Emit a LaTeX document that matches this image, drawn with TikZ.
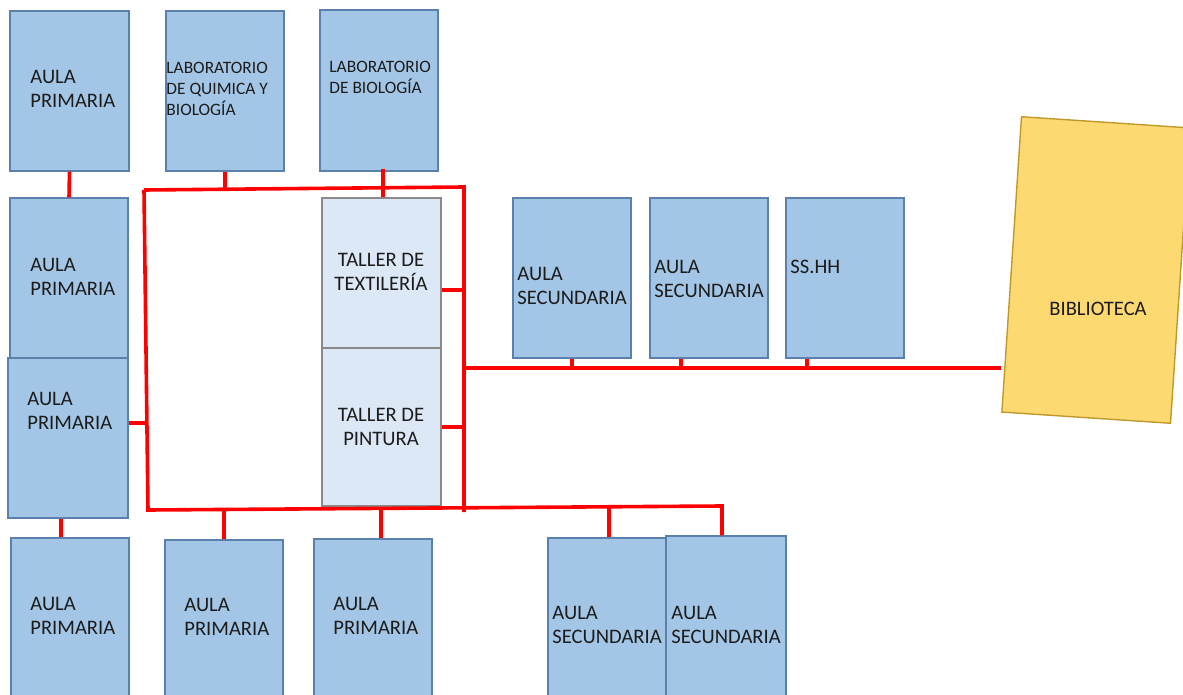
\documentclass[tikz,border=0pt]{standalone}
\usepackage{fontspec}
\setmainfont{Carlito}
\usepackage{tikz}
\usetikzlibrary{positioning,calc}

\definecolor{azul}{HTML}{A4C6E6}
\definecolor{bordeazul}{HTML}{5A80AE}
\definecolor{celeste}{HTML}{DCE8F5}
\definecolor{gris}{HTML}{8A8A8A}
\definecolor{oro}{HTML}{FDD971}
\definecolor{bordeoro}{HTML}{BF9A2A}
\definecolor{rojo}{HTML}{FF0000}
\definecolor{tinta}{HTML}{1C1C1C}

\begin{document}
\begin{tikzpicture}[x=0.5pt, y=-0.5pt, font=\fontsize{10.3}{12.2}\selectfont, text=tinta]
\tikzstyle{aula}=[draw=bordeazul, fill=azul, line width=0.6pt, minimum width=59pt, minimum height=80pt, inner sep=0pt]
\tikzstyle{taller}=[draw=gris, fill=celeste, line width=0.6pt, minimum width=59.5pt, inner sep=0pt]
\tikzstyle{rotulo}=[anchor=west, align=left, inner sep=0pt]
\tikzstyle{chico}=[rotulo, font=\fontsize{8.7}{10.5}\selectfont]
\tikzstyle{via}=[draw=rojo, line width=1.8pt]

\useasboundingbox (0,0) rectangle (1183,695);
\clip (0,0) rectangle (1183,695);

% primera fila
\node[aula, minimum width=59.5pt] (a1) at (69.5,91)  {};
\node[aula] (lq) at (225,91)   {};
\node[aula, minimum height=80.5pt] (lb) at (379,90.5) {};
% pabellon izquierdo
\node[aula] (a2) at (69,278)  {};
\node[aula, minimum width=60pt] (a3) at (68,438)  {};
% talleres
\node[taller, minimum height=75pt] (tt) at (381.5,273) {};
\node[taller, minimum height=79pt] (tp) at (381.5,427) {};
% secundaria y servicios
\node[aula] (s1) at (572,278) {};
\node[aula] (s2) at (709,278) {};
\node[aula] (sh) at (845,278) {};
% biblioteca
\node[draw=bordeoro, fill=oro, line width=0.7pt, minimum width=84.5pt, minimum height=148pt, inner sep=0pt, rotate=-3.8] (bib) at (1096,270) {};
% ultima fila
\node[aula] (b1) at (70,618)  {};
\node[aula] (b2) at (224,620) {};
\node[aula] (b3) at (373,619) {};
\node[aula] (b4) at (607,618) {};
\node[aula, minimum width=60pt] (b5) at (726,616) {};

% textos
\node[rotulo] (a1t) at (30,89)  {AULA\\PRIMARIA};
\node[chico]  (lqt) at (166,89) {LABORATORIO\\DE QUIMICA Y\\BIOLOGÍA};
\node[chico]  (lbt) at (329,77) {LABORATORIO\\DE BIOLOGÍA};
\node[rotulo] (a2t) at (30,277) {AULA\\PRIMARIA};
\node[rotulo] (a3t) at (27,411) {AULA\\PRIMARIA};
\node[align=center, inner sep=0pt] (ttt) at (381,272) {TALLER DE\\TEXTILERÍA};
\node[align=center, inner sep=0pt] (tpt) at (381,427) {TALLER DE\\PINTURA};
\node[rotulo] (s1t) at (517,286) {AULA\\SECUNDARIA};
\node[rotulo] (s2t) at (654,279) {AULA\\SECUNDARIA};
\node[rotulo] (sht) at (790,267) {SS.HH};
\node[inner sep=0pt] (bibt) at (1098,309) {BIBLIOTECA};
\node[rotulo] (b1t) at (30,616)  {AULA\\PRIMARIA};
\node[rotulo] (b2t) at (184,617) {AULA\\PRIMARIA};
\node[rotulo] (b3t) at (333,616) {AULA\\PRIMARIA};
\node[rotulo] (b4t) at (552,625) {AULA\\SECUNDARIA};
\node[rotulo] (b5t) at (671,625) {AULA\\SECUNDARIA};

% pasillos
\coordinate (nw) at (144,190);
\coordinate (ne) at (464,187);
\coordinate (sw) at (148,510);
\coordinate (se) at (464,512);
\coordinate (fin) at (722,506);
\coordinate (ramal) at (464,368);

\draw[via] (nw) -- (ne) -- (se);
\draw[via] (nw) -- (sw) -- (fin) -- (fin |- b5.north);
\draw[via] (ramal) -- (ramal -| bib.south west);

\draw[via] (a1.south) -- (a2.north);
\draw[via] (lq.south) -- (lq.south |- nw);
\draw[via] ([xshift=2pt,yshift=1.5pt]lb.south) -- ([xshift=2pt]tt.north -| lb.south);
\draw[via] ([yshift=-8.5pt]tt.east) -- ([yshift=-8.5pt]tt.east -| ne);
\draw[via] (tp.east) -- (tp.east -| ne);
\draw[via] ([yshift=7.5pt]a3.east) -- ([yshift=7.5pt]a3.east -| sw);
\draw[via] ([xshift=-3.5pt]a3.south) -- ([xshift=-3.5pt]a3.south |- b1.north);
\draw[via] (b2.north) -- (b2.north |- sw);
\draw[via] ([xshift=4pt]b3.north) -- ([xshift=4pt]b3.north |- sw);
\draw[via] ([xshift=1pt]b4.north) -- ([xshift=1pt]b4.north |- fin);
\draw[via] (s1.south) -- (s1.south |- ramal);
\draw[via] ([xshift=-14pt]s2.south) -- ([xshift=-14pt]s2.south |- ramal);
\draw[via] ([xshift=-19pt]sh.south) -- ([xshift=-19pt]sh.south |- ramal);
\end{tikzpicture}
\end{document}
